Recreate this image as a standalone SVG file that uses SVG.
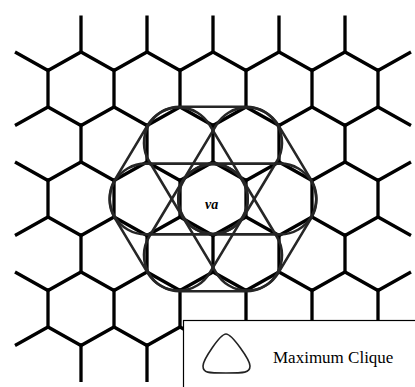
<svg xmlns="http://www.w3.org/2000/svg" width="415" height="387" viewBox="0 0 415 387">
<style>
.grid{fill:none;stroke:#000;stroke-width:3.3;stroke-linejoin:miter;stroke-linecap:butt}
.clq{fill:none;stroke:#262626;stroke-width:2.6;stroke-linejoin:round}
.lbl{font-family:"Liberation Serif","Times New Roman",serif;fill:#000}
</style>
<rect width="415" height="387" fill="#fff"/>
<g id="connectors" class="grid">
<polyline points="15,52 48,70.5 81,52 114,70.5 147,52 180,70.5 213,52 246,70.5 279,52 312,70.5 345,52 378,70.5 411,52"/>
<polyline points="15,125.5 48,107 81,125.5 114,107 147,125.5 180,107 213,125.5 246,107 279,125.5 312,107 345,125.5 378,107 411,125.5"/>
<polyline points="15,162 48,180.5 81,162 114,180.5 147,162 180,180.5 213,162 246,180.5 279,162 312,180.5 345,162 378,180.5 411,162"/>
<polyline points="15,235.5 48,217 81,235.5 114,217 147,235.5 180,217 213,235.5 246,217 279,235.5 312,217 345,235.5 378,217 411,235.5"/>
<polyline points="15,272 48,290.5 81,272 114,290.5 147,272 180,290.5 213,272 246,290.5 279,272 312,290.5 345,272 378,290.5 411,272"/>
<polyline points="15,345.5 48,327 81,345.5 114,327 147,345.5 180,327 213,345.5 246,327 279,345.5 312,327 345,345.5 378,327 411,345.5"/>
<path d="M81,15.5V52M147,15.5V52M213,15.5V52M279,15.5V52M345,15.5V52
M48,70.5V107M114,70.5V107M180,70.5V107M246,70.5V107M312,70.5V107M378,70.5V107
M81,125.5V162M147,125.5V162M213,125.5V162M279,125.5V162M345,125.5V162
M48,180.5V217M114,180.5V217M180,180.5V217M246,180.5V217M312,180.5V217M378,180.5V217
M81,235.5V272M147,235.5V272M213,235.5V272M279,235.5V272M345,235.5V272
M48,290.5V327M114,290.5V327M180,290.5V327M246,290.5V327M312,290.5V327M378,290.5V327
M81,345.5V382M147,345.5V382M213,345.5V382M279,345.5V382M345,345.5V382"/>
</g>
<g id="cliques">
<g id="clique1" transform="translate(0,-1.3)"><path class="clq" d="M180,108 L246,108 A36,36 0 0 1 276.87,162.52 L243.87,217.52 A36,36 0 0 1 182.13,217.52 L149.13,162.52 A36,36 0 0 1 180,108 Z"/></g>
<g id="clique2" transform="translate(1.3,-0.6)"><path class="clq" d="M276.87,125.48 L309.87,180.48 A36,36 0 0 1 279,235 L213,235 A36,36 0 0 1 182.13,180.48 L215.13,125.48 A36,36 0 0 1 276.87,125.48 Z"/></g>
<g id="clique3" transform="translate(1.3,0.6)"><path class="clq" d="M213,163 L279,163 A36,36 0 0 1 309.87,217.52 L276.87,272.52 A36,36 0 0 1 215.13,272.52 L182.13,217.52 A36,36 0 0 1 213,163 Z"/></g>
<g id="clique4" transform="translate(0,1.3)"><path class="clq" d="M243.87,180.48 L276.87,235.48 A36,36 0 0 1 246,290 L180,290 A36,36 0 0 1 149.13,235.48 L182.13,180.48 A36,36 0 0 1 243.87,180.48 Z"/></g>
<g id="clique5" transform="translate(-1.3,0.6)"><path class="clq" d="M147,163 L213,163 A36,36 0 0 1 243.87,217.52 L210.87,272.52 A36,36 0 0 1 149.13,272.52 L116.13,217.52 A36,36 0 0 1 147,163 Z"/></g>
<g id="clique6" transform="translate(-1.3,-0.6)"><path class="clq" d="M210.87,125.48 L243.87,180.48 A36,36 0 0 1 213,235 L147,235 A36,36 0 0 1 116.13,180.48 L149.13,125.48 A36,36 0 0 1 210.87,125.48 Z"/></g>
</g>
<g id="va">
<text class="lbl" x="205" y="209" font-size="14" font-style="italic" font-weight="bold">va</text>
</g>
<g id="legend">
<rect x="183.5" y="320.5" width="240" height="80" fill="#fff" stroke="#000" stroke-width="1.2"/>
<path d="M226,334 C232,334 250,360 250,366 C250,373 244,373 226,373 C208,373 203,373 203,366 C203,360 220,334 226,334 Z" fill="none" stroke="#222" stroke-width="1.6"/>
<text class="lbl" x="273" y="363" font-size="17">Maximum Clique</text>
</g>
</svg>
